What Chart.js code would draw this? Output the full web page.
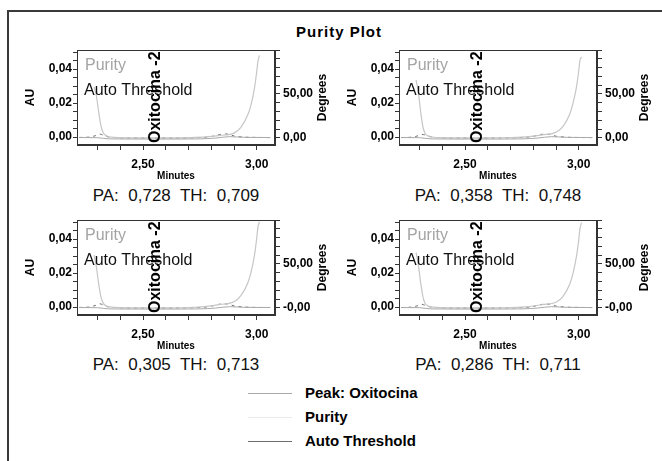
<!DOCTYPE html>
<html>
<head>
<meta charset="utf-8">
<script src="https://cdn.jsdelivr.net/npm/chart.js@4.4.1/dist/chart.umd.min.js"></script>
<style>
  body { margin: 0; background: #fff; font-family: "Liberation Sans", Arial, sans-serif; }
  #page { position: relative; width: 662px; height: 461px; overflow: hidden; background: #fff; }
  #frame { position: absolute; left: 7px; top: 10px; width: 720px; height: 520px; border: 2px solid #3a3a3a; box-sizing: border-box; }
  #title { position: absolute; left: 8px; width: 662px; top: 23px; text-align: center; font-weight: bold; font-size: 15px; letter-spacing: 1px; color: #000; }
  canvas { position: absolute; }
  .pa { position: absolute; width: 240px; text-align: center; font-size: 17px; line-height: 20px; white-space: pre; color: #111; }
  .leg { position: absolute; left: 248px; height: 20px; }
  .leg span.line { position: absolute; left: 0; top: 10px; width: 44px; height: 0; border-top: 1px solid #999; }
  .leg span.txt { position: absolute; left: 57px; top: 1px; font-weight: bold; font-size: 15px; white-space: nowrap; color: #000; }
</style>
</head>
<body>
<div id="page">
  <div id="frame"></div>
  <div id="title">Purity Plot</div>
  <canvas id="c1" width="310" height="140" style="left:20px; top:45px;"></canvas>
  <canvas id="c2" width="310" height="140" style="left:342px; top:45px;"></canvas>
  <canvas id="c3" width="310" height="140" style="left:20px; top:215px;"></canvas>
  <canvas id="c4" width="310" height="140" style="left:342px; top:215px;"></canvas>
  <div class="pa" id="pa1" style="left:56px; top:186px;"></div>
  <div class="pa" id="pa2" style="left:378px; top:186px;"></div>
  <div class="pa" id="pa3" style="left:56px; top:355px;"></div>
  <div class="pa" id="pa4" style="left:378px; top:355px;"></div>
  <div id="legend"></div>
</div>
<script>
// axis ranges and ticks
const timeMin = 2.21, timeMax = 3.08;
const timeTicks = [2.3, 2.4, 2.5, 2.6, 2.7, 2.8, 2.9, 3.0];
const timeLabels = [2.5, 3.0];
const auMin = -0.0047, auMax = 0.0512;
const auTicks = [0, 0.005, 0.01, 0.015, 0.02, 0.025, 0.03, 0.035, 0.04, 0.045, 0.05];
const auLabels = [0, 0.02, 0.04];
const degMin = -8, degMax = 100;
const degTicks = [0, 10, 20, 30, 40, 50, 60, 70, 80, 90, 100];
const degLabels = [0, 50];

const peakName = 'Oxitocina -2';
const peakApex = 2.555;

// peak trace (AU)
const peakTime = [2.22, 2.30, 2.35, 2.45, 2.55, 2.65, 2.75, 2.82, 2.88, 2.95, 3.06];
const peakAU = [-0.0003, -0.0004, -0.0011, -0.0012, -0.0012, -0.0012, -0.0011, -0.0006, 0.0002, -0.0002, -0.0003];

// purity angle (degrees)
const purityTime = [2.285, 2.295, 2.305, 2.315, 2.325, 2.34, 2.36, 2.40, 2.50, 2.60, 2.70, 2.78, 2.84, 2.90, 2.93, 2.96, 2.975, 2.99, 3.00, 3.005, 3.012];
const purity1 = [58, 48, 30, 14, 6, 2.5, 1, 0.4, 0.2, 0.2, 0.4, 1.2, 3, 5.5, 12, 26, 38, 57, 76, 87, 94];
const purity2 = [66, 52, 30, 13, 5, 2, 0.8, 0.4, 0.2, 0.2, 0.5, 1.5, 3.5, 6.5, 13, 27, 40, 58, 77, 88, 92];
const purity3 = [60, 47, 28, 13, 5.5, 2.2, 1, 0.4, 0.2, 0.2, 0.5, 1.8, 4, 7, 14, 28, 41, 60, 80, 92, 98];
const purity4 = [63, 49, 29, 13, 5, 2, 0.9, 0.4, 0.2, 0.2, 0.5, 1.6, 3.8, 6.5, 13, 27, 40, 59, 78, 90, 97];

// auto threshold (degrees)
const thresholdTime = [2.22, 2.26, 2.29, 2.31, 2.33, 2.36, 2.45, 2.55, 2.65, 2.75, 2.80, 2.84, 2.87, 2.90, 2.95, 3.00, 3.06];
const threshold1 = [0.6, 0.9, 2.5, 4.5, 2.5, 0.6, 0.1, 0.1, 0.1, 0.4, 1.6, 4.0, 4.5, 2.2, 0.9, 0.6, 0.4];
const threshold2 = [0.5, 0.8, 2.2, 4.0, 3.0, 0.8, 0.1, 0.1, 0.1, 0.5, 1.8, 4.2, 4.0, 2.0, 0.8, 0.5, 0.4];
const threshold3 = [0.6, 1.0, 2.8, 4.8, 2.6, 0.7, 0.1, 0.1, 0.1, 0.5, 2.0, 4.4, 4.6, 2.4, 1.0, 0.6, 0.5];
const threshold4 = [0.5, 0.9, 2.4, 4.2, 2.4, 0.6, 0.1, 0.1, 0.1, 0.4, 1.7, 4.1, 4.3, 2.1, 0.9, 0.6, 0.4];

const paValues = ['0,728', '0,358', '0,305', '0,286'];
const thValues = ['0,709', '0,748', '0,713', '0,711'];
const zeroDegLabels = ['0,00', '0,00', '-0,00', '-0,00'];

const peakColor = '#a9a9a9';
const purityColor = '#c6c6c6';
const thresholdColor = '#6e6e6e';
const axisColor = '#333';
const fontFamily = '"Liberation Sans", Arial, sans-serif';

function toPoints(xs, ys) {
    return xs.map((x, i) => ({ x: x, y: ys[i] }));
}

function isLabel(v, list) {
    return list.some(l => Math.abs(l - v) < 1e-9);
}

function fmt(v) {
    return v.toFixed(2).replace('.', ',');
}

const panelDecor = {
    id: 'panelDecor',
    afterDatasetsDraw(chart) {
        const { ctx, chartArea: a, scales } = chart;
        ctx.save();
        ctx.strokeStyle = axisColor;
        ctx.lineWidth = 1;
        ctx.strokeRect(a.left + 0.5, a.top + 0.5, a.width - 1, a.height - 1);

        ctx.font = '16px ' + fontFamily;
        ctx.textBaseline = 'alphabetic';
        ctx.textAlign = 'left';
        ctx.fillStyle = '#a4a4a4';
        ctx.fillText('Purity', a.left + 8, a.top + 20);
        ctx.fillStyle = '#111';
        ctx.fillText('Auto Threshold', a.left + 7, a.top + 45);

        // vertical peak label
        const px = scales.x.getPixelForValue(peakApex);
        ctx.save();
        ctx.translate(px, a.bottom - 2);
        ctx.rotate(-Math.PI / 2);
        ctx.font = 'bold 16px ' + fontFamily;
        ctx.textBaseline = 'middle';
        ctx.fillStyle = '#000';
        ctx.fillText(peakName, 0, 0);
        ctx.restore();

        // right axis title
        ctx.translate(a.right + 48, (a.top + a.bottom) / 2);
        ctx.rotate(-Math.PI / 2);
        ctx.font = 'bold 12px ' + fontFamily;
        ctx.textAlign = 'center';
        ctx.textBaseline = 'middle';
        ctx.fillStyle = '#000';
        ctx.fillText('Degrees', 0, 0);
        ctx.restore();
    }
};

function makePanel(id, purity, threshold, zeroLabel) {
    const tickFont = { family: fontFamily, size: 12, weight: 'bold' };
    return new Chart(document.getElementById(id), {
        type: 'line',
        data: {
            datasets: [
                {
                    label: 'Peak: Oxitocina',
                    data: toPoints(peakTime, peakAU),
                    yAxisID: 'y',
                    borderColor: peakColor,
                    borderWidth: 1,
                    pointRadius: 0,
                    cubicInterpolationMode: 'monotone'
                },
                {
                    label: 'Purity',
                    data: toPoints(purityTime, purity),
                    yAxisID: 'y2',
                    borderColor: purityColor,
                    borderWidth: 1.2,
                    pointRadius: 0,
                    cubicInterpolationMode: 'monotone'
                },
                {
                    label: 'Auto Threshold',
                    data: toPoints(thresholdTime, threshold),
                    yAxisID: 'y2',
                    borderColor: thresholdColor,
                    borderWidth: 1,
                    borderDash: [3, 4],
                    pointRadius: 0,
                    cubicInterpolationMode: 'monotone'
                }
            ]
        },
        options: {
            responsive: false,
            animation: false,
            layout: { padding: { top: 5, left: 0, right: 0, bottom: 0 } },
            plugins: { legend: { display: false }, tooltip: { enabled: false } },
            scales: {
                x: {
                    type: 'linear',
                    min: timeMin,
                    max: timeMax,
                    afterBuildTicks: s => { s.ticks = timeTicks.map(v => ({ value: v })); },
                    afterFit: s => { s.height = 40; s.paddingLeft = 0; s.paddingRight = 0; },
                    ticks: {
                        autoSkip: false, maxRotation: 0, padding: 7, color: '#000', font: tickFont,
                        callback: v => isLabel(v, timeLabels) ? fmt(v) : ''
                    },
                    grid: { drawOnChartArea: false, tickLength: 5, color: axisColor },
                    border: { color: axisColor },
                    title: {
                        display: true, text: 'Minutes', color: '#000',
                        font: { family: fontFamily, size: 10, weight: 'bold' },
                        padding: { top: 0, bottom: 3 }
                    }
                },
                y: {
                    position: 'left',
                    min: auMin,
                    max: auMax,
                    afterBuildTicks: s => { s.ticks = auTicks.map(v => ({ value: v })); },
                    afterFit: s => { s.width = 57; s.paddingTop = 0; s.paddingBottom = 0; },
                    ticks: {
                        autoSkip: false, padding: 1, color: '#000', font: tickFont,
                        callback: v => isLabel(v, auLabels) ? fmt(v) : ''
                    },
                    grid: { drawOnChartArea: false, tickLength: 4, color: axisColor },
                    border: { color: axisColor },
                    title: {
                        display: true, text: 'AU', color: '#000',
                        font: { family: fontFamily, size: 12, weight: 'bold' },
                        padding: { top: 3, bottom: 0 }
                    }
                },
                y2: {
                    position: 'right',
                    min: degMin,
                    max: degMax,
                    afterBuildTicks: s => { s.ticks = degTicks.map(v => ({ value: v })); },
                    afterFit: s => { s.width = 55; s.paddingTop = 0; s.paddingBottom = 0; },
                    ticks: {
                        autoSkip: false, padding: 3, color: '#000', font: tickFont,
                        callback: v => isLabel(v, degLabels) ? (v === 0 ? zeroLabel : fmt(v)) : ''
                    },
                    grid: { drawOnChartArea: false, tickLength: 5, color: axisColor },
                    border: { color: axisColor }
                }
            }
        },
        plugins: [panelDecor]
    });
}

makePanel('c1', purity1, threshold1, zeroDegLabels[0]);
makePanel('c2', purity2, threshold2, zeroDegLabels[1]);
makePanel('c3', purity3, threshold3, zeroDegLabels[2]);
makePanel('c4', purity4, threshold4, zeroDegLabels[3]);

for (let i = 0; i < 4; i++) {
    document.getElementById('pa' + (i + 1)).textContent = 'PA:  ' + paValues[i] + '  TH:  ' + thValues[i];
}

// legend below the panels
const legendItems = [
    { text: 'Peak: Oxitocina', color: peakColor, top: 383 },
    { text: 'Purity', color: '#ececec', top: 407 },
    { text: 'Auto Threshold', color: thresholdColor, top: 431 }
];
const legend = document.getElementById('legend');
legendItems.forEach(item => {
    const row = document.createElement('div');
    row.className = 'leg';
    row.style.top = item.top + 'px';
    row.innerHTML = '<span class="line" style="border-top-color:' + item.color + '"></span><span class="txt">' + item.text + '</span>';
    legend.appendChild(row);
});
</script>
</body>
</html>
